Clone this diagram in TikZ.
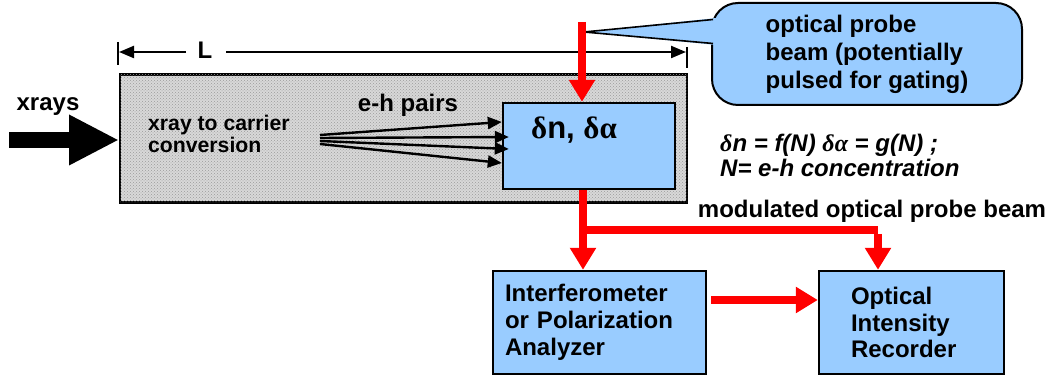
\documentclass[tikz,border=0pt]{standalone}
\usepackage{fontspec}
\setmainfont{Liberation Sans}
\newfontfamily\greekfont{Liberation Serif}
\usetikzlibrary{arrows.meta,patterns}
\definecolor{boxblue}{HTML}{99CCFF}
\definecolor{granite}{HTML}{D8D8D8}
\definecolor{graniteDot}{HTML}{9A9A9A}
\definecolor{beamred}{HTML}{FF0000}
\tikzset{
  txt/.style={font=\fontsize{24}{26}\selectfont\bfseries, inner sep=0pt},
  bluebox/.style={draw=black, line width=2.4pt, fill=boxblue, inner ysep=0pt},
  beam/.style={draw=beamred, line width=8pt, -{Triangle[length=22pt,width=25pt]}},
  beamline/.style={draw=beamred, line width=8pt},
  blackarr/.style={draw=black, line width=2.4pt, -{Triangle[length=14pt,width=12pt]}},
  dimarr/.style={draw=black, line width=2.2pt, -{Triangle[length=15pt,width=12pt]}},
}
\begin{document}
\begin{tikzpicture}[x=1pt,y=-1pt]
\useasboundingbox (0,0) rectangle (1050,379);
% granite box
\node[draw=black, line width=2.4pt, fill=granite, minimum width=567pt, minimum height=128pt, inner sep=0pt,
      postaction={pattern=crosshatch dots, pattern color=graniteDot}] (gray) at (403.5,138.5) {};
% dimension L
\coordinate (dimL) at (119,52);
\coordinate (dimR) at (686,52);
\draw[line width=1.6pt] (118,42) -- (118,65);
\draw[line width=1.6pt] (687,47) -- (687,68);
\node[txt] (L) at (205,50) {L};
\draw[dimarr] (186,52) -- (dimL);
\draw[dimarr] (226,52) -- (dimR);
% xrays
\node[txt] (xr) at (48,107) {xrays};
\coordinate (xstart) at (9,140);
\coordinate (xtip) at (119,140);
\draw[line width=16pt, -{Triangle[length=50pt,width=47pt]}] (xstart) -- (xtip);
% inner text
\node[txt, font=\fontsize{21.2}{22.5}\selectfont\bfseries, align=left, anchor=west] (conv) at (148,134) {xray to carrier\\conversion};
\node[txt] (eh) at (408,105) {e-h pairs};
% delta box
\node[bluebox, minimum width=172pt, minimum height=86pt] (dn) at (589,146) {};
\node[inner sep=0pt, anchor=west, font=\fontsize{31}{33}\selectfont] (dnl) at (531,130) {{\greekfont\bfseries δ}\textbf{n,} {\greekfont\bfseries δα}};
% fan arrows
\coordinate (f1) at (320,135);
\coordinate (f2) at (320,138);
\coordinate (f3) at (320,141);
\coordinate (f4) at (320,144);
\draw[blackarr] (f1) -- (dn.west |- 0,122);
\draw[blackarr] (f2) -- ([xshift=7pt]dn.west |- 0,137);
\draw[blackarr] (f3) -- ([xshift=7pt]dn.west |- 0,149);
\draw[blackarr] (f4) -- (dn.west |- 0,163);
% callout
\node[txt, draw=black, line width=2pt, fill=boxblue, rounded corners=26pt, minimum width=310pt, minimum height=102pt,
      font=\fontsize{24}{28}\selectfont\bfseries, align=left] (call) at (867,54)
      {optical probe\\beam (potentially\\pulsed for gating)};
\coordinate (ctip) at (584,32);
\fill[boxblue] (ctip) -- (716,18) -- (716,45) -- cycle;
\draw[line width=1.6pt] (713,19.5) -- (ctip) -- (713,43.5);
% probe beam
\coordinate (ptop) at (582,22);
\draw[beam] (ptop) -- (dn.north -| 582,0);
% formulas
\node[inner sep=0pt, anchor=west, align=left, font=\fontsize{24}{25}\selectfont\bfseries\itshape] (form) at (720,155)
  {{\greekfont δ}n = f(N)~{\greekfont δα} = g(N) ;\\N= e-h concentration};
\node[txt] (mod) at (872,211) {modulated optical probe beam};
% lower boxes
\node[txt, bluebox, minimum height=103pt, text width=189pt, inner xsep=12pt, inner ysep=0pt, align=left,
      font=\fontsize{24}{27}\selectfont\bfseries] (intf) at (599.5,322.5)
      {Interferometer\\or Polarization\\Analyzer};
\node[txt, bluebox, minimum height=103pt, text width=121pt, inner xsep=32pt, inner ysep=0pt, align=left,
      font=\fontsize{24}{26.5}\selectfont\bfseries] (opt) at (911.5,322.5)
      {Optical\\Intensity\\Recorder};
% modulated beam
\coordinate (split) at (583,230);
\coordinate (corner) at (878,230);
\draw[beamline] (dn.south -| split) -- (split);
\draw[beam] (split) -- (intf.north -| split);
\draw[beamline] ([xshift=-4pt]split) -- (corner);
\draw[beam] ([yshift=-4pt]corner) -- (opt.north -| corner);
\draw[beam] ([xshift=4pt]intf.east |- 0,300) -- (opt.west |- 0,300);
\end{tikzpicture}
\end{document}
